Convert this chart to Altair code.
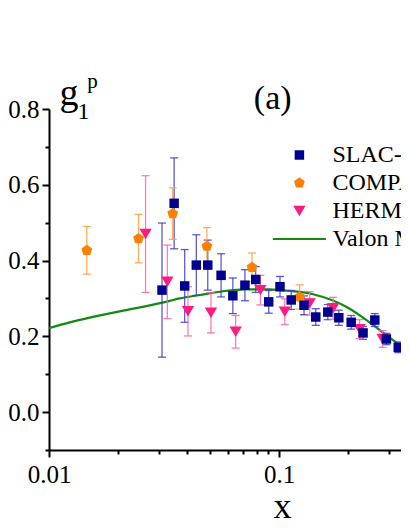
import altair as alt
import pandas as pd

# ---- data ----
slac_x = [0.031, 0.035, 0.0389, 0.0437, 0.049, 0.056, 0.063, 0.0711, 0.0792, 0.0902, 0.101,
          0.113, 0.1285, 0.1445, 0.163, 0.182, 0.206, 0.232, 0.261, 0.293, 0.330, 0.364]
slac_g = [0.322, 0.551, 0.333, 0.388, 0.388, 0.361, 0.307, 0.335, 0.350, 0.291, 0.331,
          0.296, 0.282, 0.251, 0.264, 0.249, 0.237, 0.209, 0.243, 0.193, 0.171, 0.148]
slac_err = [0.177, 0.120, 0.096, 0.080, 0.066, 0.057, 0.047, 0.041, 0.034, 0.030, 0.027,
            0.025, 0.025, 0.022, 0.020, 0.020, 0.018, 0.017, 0.017, 0.015, 0.014, 0.014]

compass_x = [0.0146, 0.0245, 0.0345, 0.0486, 0.0763, 0.123]
compass_g = [0.427, 0.458, 0.524, 0.438, 0.382, 0.304]
compass_err = [0.063, 0.064, 0.068, 0.049, 0.038, 0.032]

hermes_x = [0.0263, 0.0327, 0.0402, 0.0506, 0.0648, 0.083, 0.106, 0.136, 0.172, 0.224, 0.282, 0.361]
hermes_g = [0.470, 0.344, 0.266, 0.262, 0.212, 0.322, 0.265, 0.287, 0.274, 0.219, 0.193, 0.155]
hermes_err = [0.154, 0.097, 0.065, 0.053, 0.043, 0.039, 0.034, 0.031, 0.029, 0.025, 0.022, 0.020]

valon_x = [0.01, 0.0111, 0.0335, 0.037, 0.0452, 0.0571, 0.0721, 0.0912, 0.1, 0.1406, 0.196, 0.240, 0.293, 0.366]
valon_g = [0.2216, 0.2296, 0.2937, 0.300, 0.309, 0.319, 0.324, 0.324, 0.322, 0.311, 0.278, 0.243, 0.203, 0.159]

series_names = ["SLAC-E143", "COMPASS", "HERMES", "Valon Model"]
point_colors = ["#00008f", "#ff8000", "#ff1a80", "#128a12"]
bar_colors = ["#4040c8", "#ffa040", "#ff66aa"]

x_major = [0.01, 0.1, 1]
x_minor = [0.02, 0.03, 0.04, 0.05, 0.06, 0.07, 0.08, 0.09, 0.2, 0.3, 0.4, 0.5, 0.6, 0.7, 0.8, 0.9]
y_major = [0.0, 0.2, 0.4, 0.6, 0.8]
y_minor = [-0.1, 0.1, 0.3, 0.5, 0.7]

FONT = "Liberation Serif"
DECADE = 230          # pixels per decade in the reference
W, H = 352, 341       # visible part of the (cropped) plot area
X_MAX = 10 ** (-2 + W / DECADE)

pent = "M0,-1.2 L1.14,-0.37 L0.71,0.97 L-0.71,0.97 L-1.14,-0.37 Z"
tri = "M-1.3,-1.1 L1.3,-1.1 L0,1.1 Z"
line_sym = "M-5.6,-0.2 L5.6,-0.2 L5.6,0.2 L-5.6,0.2 Z"

frames = []
for name, xs, gs, es in [("HERMES", hermes_x, hermes_g, hermes_err),
                         ("COMPASS", compass_x, compass_g, compass_err),
                         ("SLAC-E143", slac_x, slac_g, slac_err)]:
    frames.append(pd.DataFrame({"x": xs, "g": gs, "err": es, "series": name}))
pts = pd.concat(frames, ignore_index=True)
pts["lo"] = pts["g"] - pts["err"]
pts["hi"] = pts["g"] + pts["err"]
valon = pd.DataFrame({"x": valon_x, "g": valon_g, "series": "Valon Model"})

xscale = alt.Scale(type="log", domain=[0.01, X_MAX], nice=False)
yscale = alt.Scale(domain=[-0.1, 0.8], nice=False, zero=False)
cscale = alt.Scale(domain=series_names, range=point_colors)
sscale = alt.Scale(domain=series_names, range=["square", pent, tri, line_sym])

axis_common = dict(domainColor="black", domainWidth=2, tickColor="black", tickWidth=2,
                   labelFont=FONT, labelFontSize=25, labelColor="black", grid=False)

x_major_axis = alt.Axis(values=x_major, format="~g", tickSize=7, labelPadding=5,
                        labelFlush=False, labelOverlap=False, orient="bottom",
                        title="x", titleFont=FONT, titleFontSize=36, titleFontWeight="normal",
                        titleColor="black", titleBaseline="alphabetic", titleY=67, titleX=233,
                        titleAlign="center", **axis_common)
x_minor_axis = alt.Axis(values=x_minor, labels=False, tickSize=4, domain=False, title=None,
                        orient="bottom", tickColor="black", tickWidth=2, grid=False)
y_major_axis = alt.Axis(values=y_major, format=".1f", tickSize=7, labelPadding=3,
                        labelOverlap=False, orient="left", title=None, **axis_common)
y_minor_axis = alt.Axis(values=y_minor, labels=False, tickSize=4, domain=False, title=None,
                        orient="left", tickColor="black", tickWidth=2, grid=False)

legend = alt.Legend(orient="none", legendX=238.4, legendY=34, title=None,
                    labelFont=FONT, labelFontSize=24, labelColor="black",
                    labelLimit=0, labelOffset=21, symbolSize=90,
                    rowPadding=4, padding=0, symbolStrokeWidth=0, symbolOpacity=1)

base_pts = alt.Chart(pts)

line = alt.Chart(valon).mark_line(strokeWidth=2.2, interpolate="monotone", clip=True).encode(
    x=alt.X("x:Q", scale=xscale, axis=x_major_axis),
    y=alt.Y("g:Q", scale=yscale, axis=y_major_axis),
    color=alt.Color("series:N", scale=cscale, legend=legend),
)

minor_layer = alt.Chart(valon).mark_point(opacity=0, clip=True).encode(
    x=alt.X("x:Q", scale=xscale, axis=x_minor_axis),
    y=alt.Y("g:Q", scale=yscale, axis=y_minor_axis),
)

bar_layers = []
for name, bc in zip(series_names[:3], bar_colors):
    b = base_pts.transform_filter(alt.datum.series == name)
    rule = b.mark_rule(color=bc, strokeWidth=1.3, opacity=0.85).encode(
        x=alt.X("x:Q", scale=xscale, axis=None),
        y=alt.Y("lo:Q", scale=yscale, axis=None),
        y2="hi:Q",
    )
    cap_lo = b.mark_tick(color=bc, orient="horizontal", size=8, thickness=1.3, opacity=0.85).encode(
        x=alt.X("x:Q", scale=xscale, axis=None),
        y=alt.Y("lo:Q", scale=yscale, axis=None),
    )
    cap_hi = b.mark_tick(color=bc, orient="horizontal", size=8, thickness=1.3, opacity=0.85).encode(
        x=alt.X("x:Q", scale=xscale, axis=None),
        y=alt.Y("hi:Q", scale=yscale, axis=None),
    )
    bar_layers += [rule, cap_lo, cap_hi]

points = base_pts.mark_point(filled=True, size=90, opacity=1, strokeWidth=0).encode(
    x=alt.X("x:Q", scale=xscale, axis=None),
    y=alt.Y("g:Q", scale=yscale, axis=None),
    color=alt.Color("series:N", scale=cscale, legend=legend),
    shape=alt.Shape("series:N", scale=sscale, legend=legend),
)

def label(text, x, y, size):
    return alt.Chart(pd.DataFrame({"t": [text]})).mark_text(
        font=FONT, fontSize=size, color="black", align="center", baseline="alphabetic"
    ).encode(text="t:N", x=alt.value(x), y=alt.value(y))

texts = [label("g", 20, -4, 38), label("1", 34.4, 10.3, 24),
         label("p", 43.5, -21.3, 21), label("(a)", 223.7, -0.5, 34)]

chart = alt.layer(line, minor_layer, *bar_layers, points, *texts).resolve_axis(
    x="independent", y="independent"
).properties(
    width=W, height=H,
    autosize=alt.AutoSizeParams(type="none"),
    padding={"left": 41, "top": 101, "right": 0, "bottom": 71},
).configure(
    background="white", font=FONT
).configure_view(
    stroke=None
).configure_axis(
    labelFont=FONT, titleFont=FONT
).configure_legend(
    labelFont=FONT
)

chart.save("out.html", embed_options={"renderer": "svg", "actions": False})
